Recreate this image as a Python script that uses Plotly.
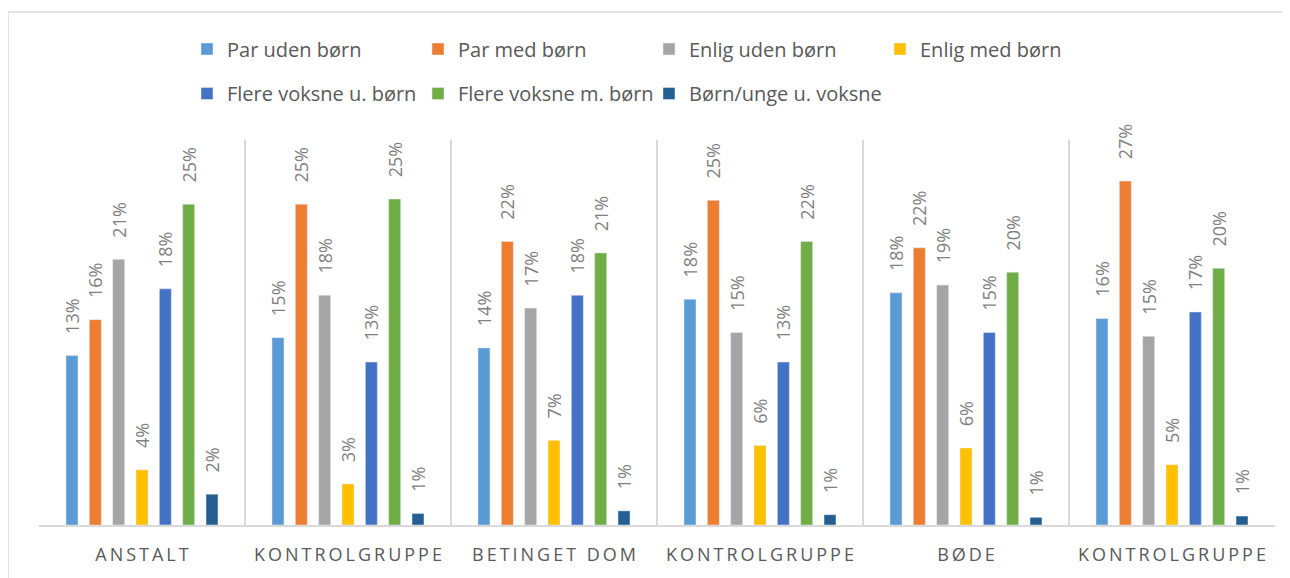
import plotly.graph_objects as go

# categories on the x axis (three control groups share the same name)
categories = ["ANSTALT", "KONTROLGRUPPE", "BETINGET DOM", "KONTROLGRUPPE", "BØDE", "KONTROLGRUPPE"]

# household type shares per category
par_uden_boern = [0.132, 0.146, 0.138, 0.176, 0.181, 0.161]
par_med_boern = [0.160, 0.250, 0.221, 0.253, 0.216, 0.268]
enlig_uden_boern = [0.207, 0.179, 0.169, 0.150, 0.187, 0.147]
enlig_med_boern = [0.043, 0.032, 0.066, 0.062, 0.060, 0.047]
flere_voksne_u_boern = [0.184, 0.127, 0.179, 0.127, 0.150, 0.166]
flere_voksne_m_boern = [0.250, 0.254, 0.212, 0.221, 0.197, 0.200]
boern_unge_u_voksne = [0.024, 0.009, 0.011, 0.008, 0.006, 0.007]

series = [
    ("Par uden børn", par_uden_boern, "#5B9BD5"),
    ("Par med børn", par_med_boern, "#ED7D31"),
    ("Enlig uden børn", enlig_uden_boern, "#A5A5A5"),
    ("Enlig med børn", enlig_med_boern, "#FFC000"),
    ("Flere voksne u. børn", flere_voksne_u_boern, "#4472C4"),
    ("Flere voksne m. børn", flere_voksne_m_boern, "#70AD47"),
    ("Børn/unge u. voksne", boern_unge_u_voksne, "#255E91"),
]

# unique keys so the repeated category names stay separate
x_keys = [f"{c}_{i}" for i, c in enumerate(categories)]
# spaced-out capitals like the original axis labels
tick_text = ["\u2009".join(c) for c in categories]

FONT = "Open Sans"
W, H = 1282, 570  # page body adds an 8px margin
PITCH = 231
PER_ROW = 4

fig = go.Figure()
legends = {}
for i, (name, vals, color) in enumerate(series):
    # one legend per entry, laid out in a 4-column grid like the original
    key = "legend" if i == 0 else f"legend{i + 1}"
    row, col = divmod(i, PER_ROW)
    legends[key] = dict(
        orientation="h",
        xref="container", yref="container",
        x=(179 + col * PITCH) / W, xanchor="left",
        y=1 - (41 + row * 44.5) / H, yanchor="middle",
        font=dict(family=FONT, size=20, color="#595959"),
        bgcolor="rgba(0,0,0,0)",
    )
    fig.add_trace(go.Bar(
        x=x_keys,
        y=vals,
        name=name,
        legend=key,
        showlegend=True,
        marker=dict(color=color),
        texttemplate="\u00a0\u00a0\u00a0\u00a0%{y:.0%}",
        textposition="outside",
        textangle=-90,
        constraintext="none",
        cliponaxis=False,
        textfont=dict(family=FONT, size=18, color="#7f7f7f"),
    ))

fig.update_layout(
    width=W,
    height=H,
    showlegend=True,
    barmode="group",
    bargap=0.207,
    bargroupgap=0.486,
    plot_bgcolor="white",
    paper_bgcolor="white",
    margin=dict(l=31, r=15, t=132, b=50),
    font=dict(family=FONT, color="#595959"),
    xaxis=dict(
        type="category",
        tickmode="array",
        tickvals=x_keys,
        ticktext=tick_text,
        tickson="boundaries",
        showgrid=True,
        gridcolor="#d9d9d9",
        gridwidth=1.5,
        showline=True,
        linecolor="#d9d9d9",
        linewidth=2,
        ticks="",
        ticklabelstandoff=12,
        tickfont=dict(family=FONT, size=18, color="#595959"),
    ),
    yaxis=dict(
        range=[0, 0.30],
        visible=False,
    ),
    shapes=[dict(
        type="rect", xref="paper", yref="paper",
        x0=-31 / 1236, x1=1.03, y0=-0.3, y1=517 / 388,
        line=dict(color="#d9d9d9", width=1.5),
        fillcolor="rgba(0,0,0,0)",
        layer="below",
    )],
    **legends,
)

fig.write_html("out.html")
